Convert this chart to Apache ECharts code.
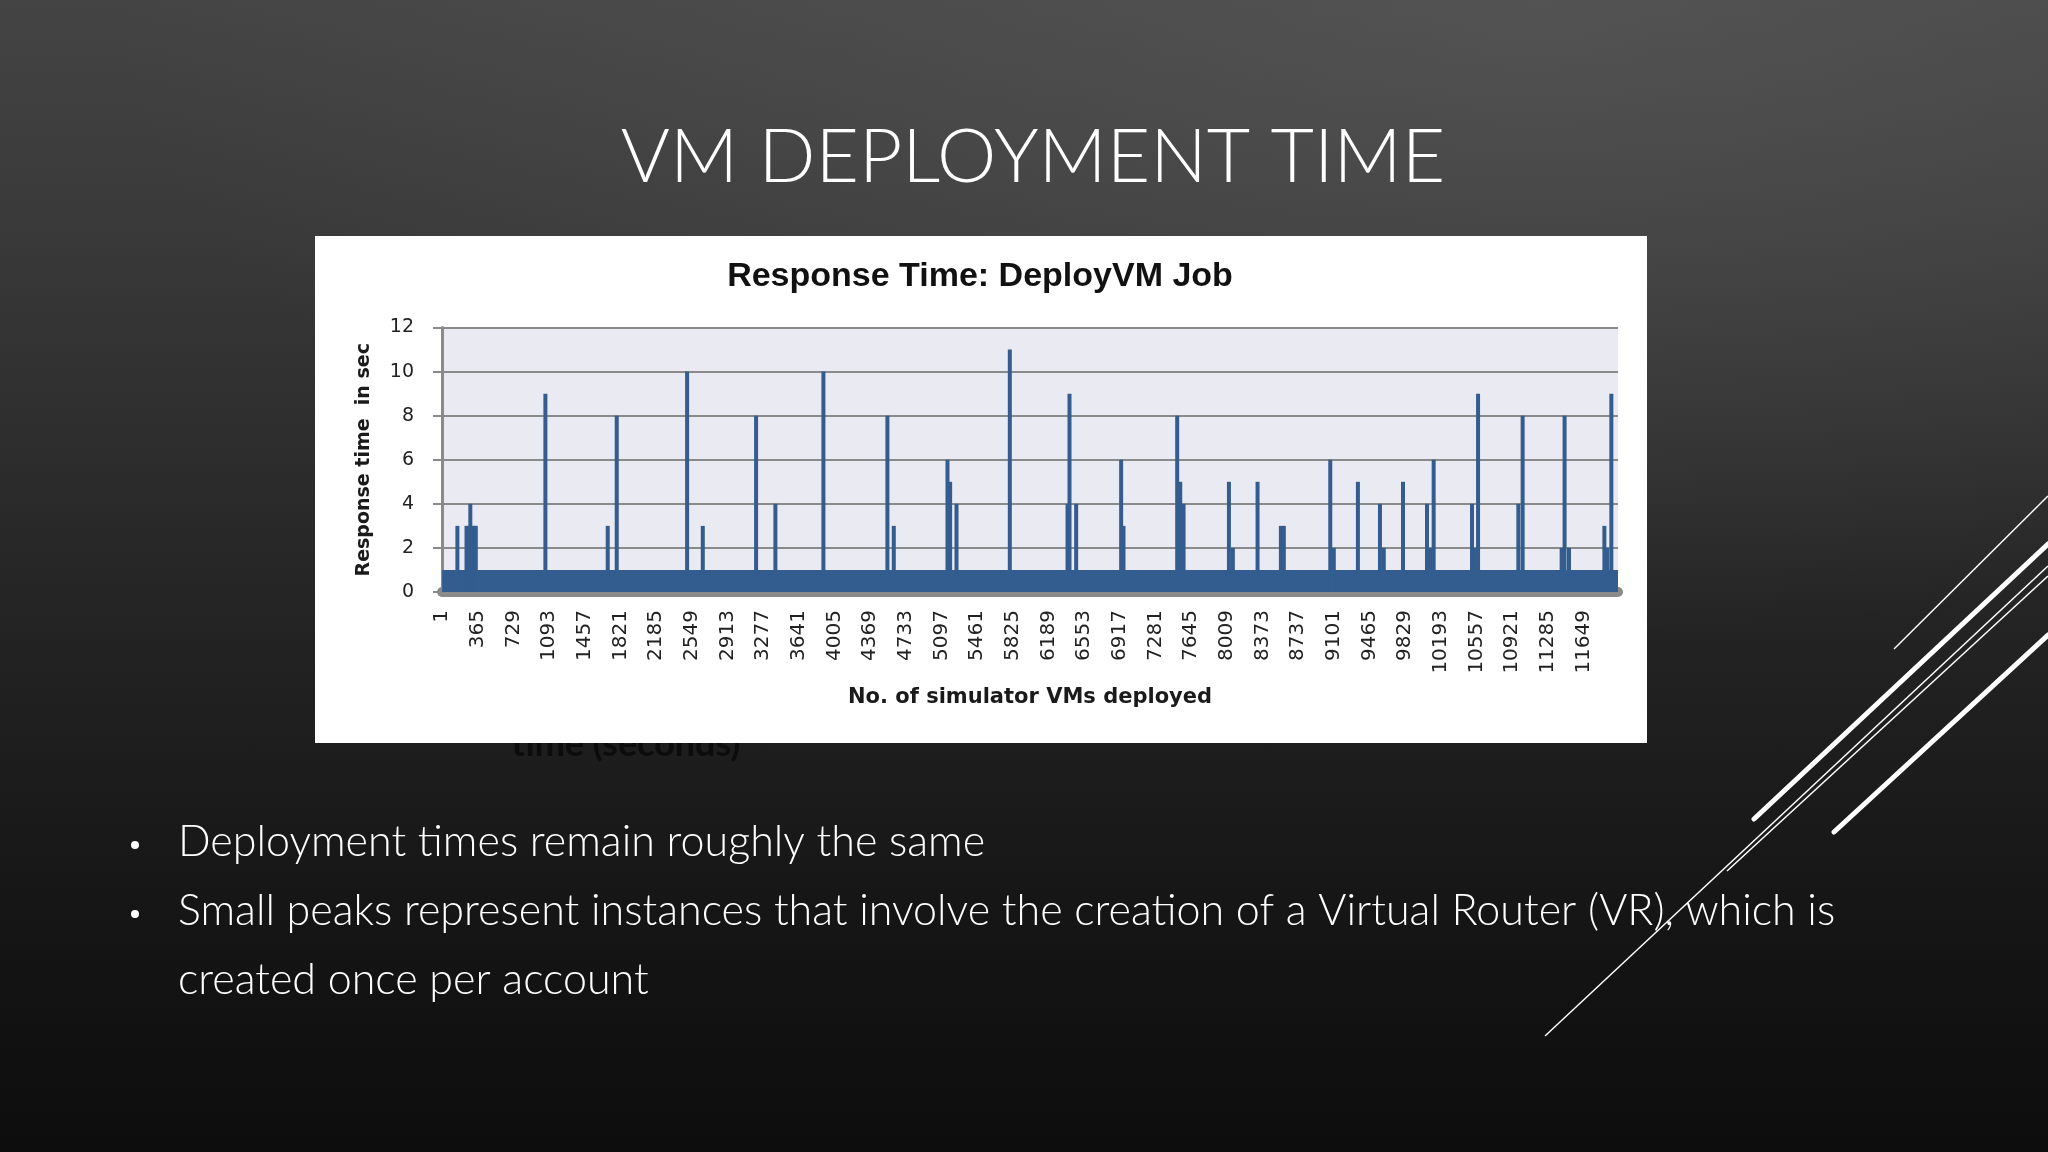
<!DOCTYPE html>
<html><head><meta charset="utf-8">
<script src="https://cdn.jsdelivr.net/npm/echarts@6/dist/echarts.min.js"></script>
<style>
html,body{margin:0;padding:0;width:2048px;height:1152px;overflow:hidden;}
body{background:
 radial-gradient(ellipse 70% 55% at 75% 0%, rgba(95,95,95,0.55), rgba(95,95,95,0) 100%),
 linear-gradient(180deg,#444 0%,#383838 22%,#262626 50%,#161616 78%,#0d0d0d 100%);}
#c{width:2048px;height:1152px;}
</style></head><body><div id="c"></div>
<script>
// ---- data ----
const slideTitle = 'VM DEPLOYMENT TIME';
const chartTitle = 'Response Time: DeployVM Job';
const yAxisName = 'Response time  in sec';
const xAxisName = 'No. of simulator VMs deployed';
const bulletLines = [
  'Deployment times remain roughly the same',
  'Small peaks represent instances that involve the creation of a Virtual Router (VR), which is',
  'created once per account'
];
const hiddenCaption = 'time (seconds)';
const xTickLabels = [1,365,729,1093,1457,1821,2185,2549,2913,3277,3641,4005,4369,4733,5097,5461,5825,6189,6553,6917,7281,7645,8009,8373,8737,9101,9465,9829,10193,10557,10921,11285,11649];
const yTickMax = 12, yTickStep = 2;
const vmCount = 12000;
// typical deployment time (flat part of the chart) for VM 1 … last VM
const baselineVMs = [1, 12000];
const baselineTimes = [1, 1];
// peaks (VM index, response time in sec)
const spikeVMs   = [157, 250, 272, 289, 310, 330, 345, 1055, 1691, 1783, 2501, 2661, 3205, 3402, 3892,
  4545, 4610, 5158, 5185, 5250, 5794, 6383, 6403, 6471, 6930, 6954, 7502, 7533, 7567,
  8030, 8070, 8322, 8560, 8590, 9064, 9100, 9346, 9571, 9610, 9806, 10051, 10085, 10119,
  10510, 10537, 10572, 10983, 11027, 11425, 11455, 11500, 11861, 11890, 11932];
const spikeTimes = [3, 3, 3, 4, 3, 3, 3, 9, 3, 8, 10, 3, 8, 4, 10,
  8, 3, 6, 5, 4, 11, 4, 9, 4, 6, 3, 8, 5, 4,
  5, 2, 5, 3, 3, 6, 2, 5, 4, 2, 5, 4, 2, 6,
  4, 2, 9, 4, 8, 2, 8, 2, 3, 2, 9];

// ---- chart ----
const BLUE = '#335d8f', GRAY = '#8a8a8a';
const chart = echarts.init(document.getElementById('c'), null, {renderer:'canvas'});
const graphics = [
  {type:'text', z:-30, style:{text:hiddenCaption, x:626, y:762, align:'center', verticalAlign:'bottom',
     font:'bold 36px Lato, "Open Sans", sans-serif', fill:'#0c0c0c'}},
  {type:'rect', z:-20, shape:{x:315, y:236, width:1332, height:507}, style:{fill:'#ffffff'}},
  {type:'text', style:{text:slideTitle, x:1033, y:158, align:'center', verticalAlign:'middle',
     font:'300 75px Lato, "Open Sans", sans-serif', fill:'#ffffff'}},
  // decorative lines
  {type:'line', shape:{x1:1894, y1:649, x2:2048, y2:496}, style:{stroke:'#fff', lineWidth:1.5}},
  {type:'line', shape:{x1:1754, y1:819, x2:2048, y2:544}, style:{stroke:'#fff', lineWidth:5, lineCap:'round'}},
  {type:'line', shape:{x1:1545, y1:1036, x2:2048, y2:566}, style:{stroke:'#fff', lineWidth:1.5}},
  {type:'line', shape:{x1:1727, y1:871, x2:2048, y2:576}, style:{stroke:'#fff', lineWidth:1.5}},
  {type:'line', shape:{x1:1834, y1:832, x2:2048, y2:635}, style:{stroke:'#fff', lineWidth:5, lineCap:'round'}}
];
const bulletY = [842, 911, 980];
bulletLines.forEach((t, i) => {
  graphics.push({type:'text', style:{text:t, x:178, y:bulletY[i], verticalAlign:'middle',
    font:'300 43px Lato, "Open Sans", sans-serif', fill:'#ffffff'}});
});
[0, 1].forEach(i => graphics.push({type:'circle', shape:{cx:135, cy:bulletY[i] + 3, r:4}, style:{fill:'#fff'}}));

chart.setOption({
  backgroundColor: 'transparent',
  animation: false,
  title: {
    text: chartTitle, left: 975, top: 255, textAlign: 'center',
    textStyle: {fontFamily:'"Liberation Sans", Arial, sans-serif', fontWeight:'bold', fontSize:34, color:'#111'}
  },
  graphic: graphics,
  grid: {left: 442, right: 430, top: 327.5, bottom: 560, show: true, backgroundColor: '#e9eaf2', borderWidth: 0},
  xAxis: {
    type: 'value', min: 0, max: vmCount, offset: 5,
    name: xAxisName, nameLocation: 'middle', nameGap: 90,
    nameTextStyle: {fontFamily:'"DejaVu Sans", sans-serif', fontWeight:'bold', fontSize:21, color:'#1a1a1a'},
    axisLine: {show: true, lineStyle: {color: GRAY, width: 10}},
    axisTick: {show: false},
    splitLine: {show: false},
    axisLabel: {customValues: xTickLabels, rotate: 90, margin: 13, fontSize: 20,
      fontFamily:'"DejaVu Sans", sans-serif', color:'#222', hideOverlap: false,
      formatter: v => String(v)}
  },
  yAxis: {
    type: 'value', min: 0, max: yTickMax, interval: yTickStep,
    name: yAxisName, nameLocation: 'middle', nameGap: 68,
    nameTextStyle: {fontFamily:'"DejaVu Sans", sans-serif', fontWeight:'bold', fontSize:19, color:'#1a1a1a'},
    axisLine: {show: true, lineStyle: {color: GRAY, width: 3}},
    axisTick: {show: true, length: 9, lineStyle: {color: GRAY, width: 2}},
    splitLine: {show: true, lineStyle: {color: GRAY, width: 2}},
    axisLabel: {margin: 28, fontSize: 19, fontFamily:'"DejaVu Sans", sans-serif', color:'#222'}
  },
  series: [
    {
      type: 'line', name: 'typical', symbol: 'none', silent: true,
      data: baselineVMs.map((v, i) => [v, baselineTimes[i]]),
      lineStyle: {width: 0}, areaStyle: {color: BLUE, opacity: 1}, z: 2
    },
    {
      type: 'bar', name: 'peaks', barWidth: 4, silent: true,
      data: spikeVMs.map((v, i) => [v, spikeTimes[i]]),
      itemStyle: {color: BLUE}, z: 3
    }
  ]
});
</script>
</body></html>
